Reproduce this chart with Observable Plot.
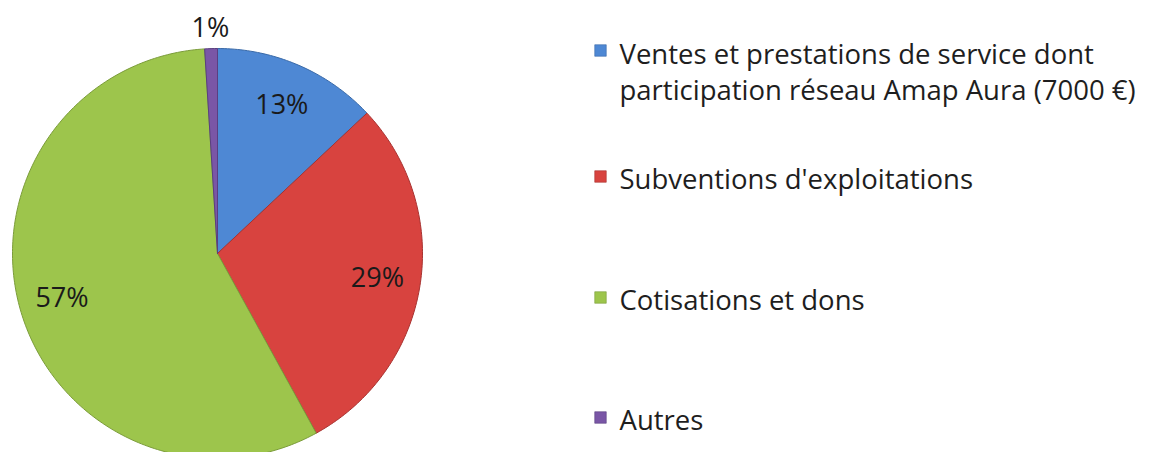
<!DOCTYPE html>
<html><head><meta charset="utf-8">
<script src="https://cdn.jsdelivr.net/npm/d3@7"></script>
<script src="https://cdn.jsdelivr.net/npm/@observablehq/plot@0.6"></script>
<style>body{margin:0;background:#fff}</style>
</head><body><div id="chart"></div>
<script>
const categories = ["Ventes et prestations de service dont\nparticipation réseau Amap Aura (7000 €)", "Subventions d'exploitations", "Cotisations et dons", "Autres"];
const shares = [13, 29, 57, 1];
const labels = ["13%", "29%", "57%", "1%"];
const colors = ["#4e88d4", "#d8433f", "#9dc54c", "#7a56a6"];
const strokes = ["#3a6aa8", "#a83230", "#7b9c3a", "#5a3f80"];

const W = 1172, H = 452;
const cx = 217, cy = 253, R = 205;
const total = d3.sum(shares);
const pie = d3.pie().sort(null).value(d => d)(shares);

const pts = [];
pie.forEach((p, i) => {
  const n = Math.max(4, Math.ceil((p.endAngle - p.startAngle) * 60));
  pts.push({k: i, x: cx, y: cy});
  for (let j = 0; j <= n; j++) {
    const a = p.startAngle + (p.endAngle - p.startAngle) * j / n;
    pts.push({k: i, x: cx + R * Math.sin(a), y: cy - R * Math.cos(a)});
  }
  pts.push({k: i, x: cx, y: cy});
});

const lab = pie.map((p, i) => {
  const a = (p.startAngle + p.endAngle) / 2;
  const f = shares[i] / total < 0.05 ? 1.1 : 0.79;
  return {t: labels[i], x: cx + R * f * Math.sin(a), y: cy - R * f * Math.cos(a)};
});

const legendY = [70, 177, 298, 418];
const leg = categories.map((c, i) => ({c, i, y: legendY[i], n: c.split("\n").length}));

const chart = Plot.plot({
  width: W, height: H,
  margin: 0,
  x: {domain: [0, W], range: [0, W], axis: null},
  y: {domain: [0, H], range: [0, H], axis: null},
  style: {fontFamily: "Open Sans, sans-serif", background: "#fff"},
  marks: [
    Plot.line(pts, {x: "x", y: "y", z: "k", fill: d => colors[d.k], stroke: d => strokes[d.k], strokeWidth: 1, curve: "linear"}),
    Plot.text(lab, {x: "x", y: "y", text: "t", fontSize: 27, fill: "#1a1a1a"}),
    Plot.dot(leg, {x: 600, y: d => d.n > 1 ? d.y - 20 : d.y - 1, symbol: "square", r: 6.5, fill: d => colors[d.i], stroke: d => strokes[d.i], strokeWidth: 0.6}),
    Plot.text(leg, {x: 619, y: "y", text: "c", textAnchor: "start", fontSize: 27.5, lineHeight: 1.3, fill: "#1e1e1e"})
  ]
});
document.getElementById("chart").appendChild(chart);
</script>
</body></html>
